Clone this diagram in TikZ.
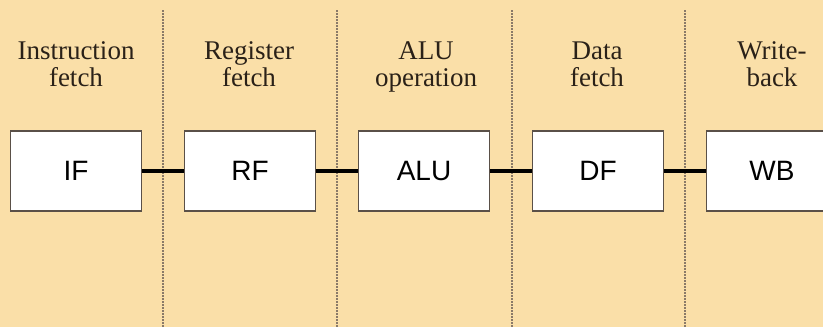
\documentclass[tikz,border=0pt]{standalone}
\usepackage{fontspec}
\setmainfont{Liberation Serif}
\newfontfamily\boxfont{Liberation Sans}
\begin{document}
\begin{tikzpicture}[x=1pt,y=-1pt,
  stagebox/.style={draw=boxedge,line width=1.2pt,fill=white,minimum width=131pt,minimum height=80pt,inner sep=0pt,font=\boxfont\fontsize{28}{30}\selectfont,text=black},
  stagelabel/.style={align=center,font=\fontsize{27}{25}\selectfont,text=labeltext,inner sep=0pt},
  divider/.style={draw=dotcol,line width=1.2pt,dash pattern=on 1.5pt off 1.5pt},
  link/.style={draw=black,line width=4pt}]
\definecolor{bgcol}{HTML}{FADFA8}
\definecolor{boxedge}{HTML}{5A5048}
\definecolor{dotcol}{HTML}{8A7A68}
\definecolor{labeltext}{HTML}{2A2118}
\fill[bgcol] (0,0) rectangle (823,327);
\useasboundingbox (0,0) rectangle (823,327);
\foreach \x in {163,337,512,685} \draw[divider] (\x,10) -- (\x,327);
\node[stagelabel] (l1) at (76,68) {\strut Instruction\\\strut fetch};
\node[stagelabel] (l2) at (249,68) {\strut Register\\\strut fetch};
\node[stagelabel] (l3) at (426,68) {\strut ALU\\\strut operation};
\node[stagelabel] (l4) at (597,68) {\strut Data\\\strut fetch};
\node[stagelabel] (l5) at (772,68) {\strut Write-\\\strut back};
\node[stagebox] (IF) at (76,171) {IF};
\node[stagebox] (RF) at (250,171) {RF};
\node[stagebox] (ALU) at (424,171) {ALU};
\node[stagebox] (DF) at (598,171) {DF};
\node[stagebox] (WB) at (772,171) {WB};
\draw[link] (IF.east) -- (RF.west);
\draw[link] (RF.east) -- (ALU.west);
\draw[link] (ALU.east) -- (DF.west);
\draw[link] (DF.east) -- (WB.west);
\end{tikzpicture}
\end{document}
